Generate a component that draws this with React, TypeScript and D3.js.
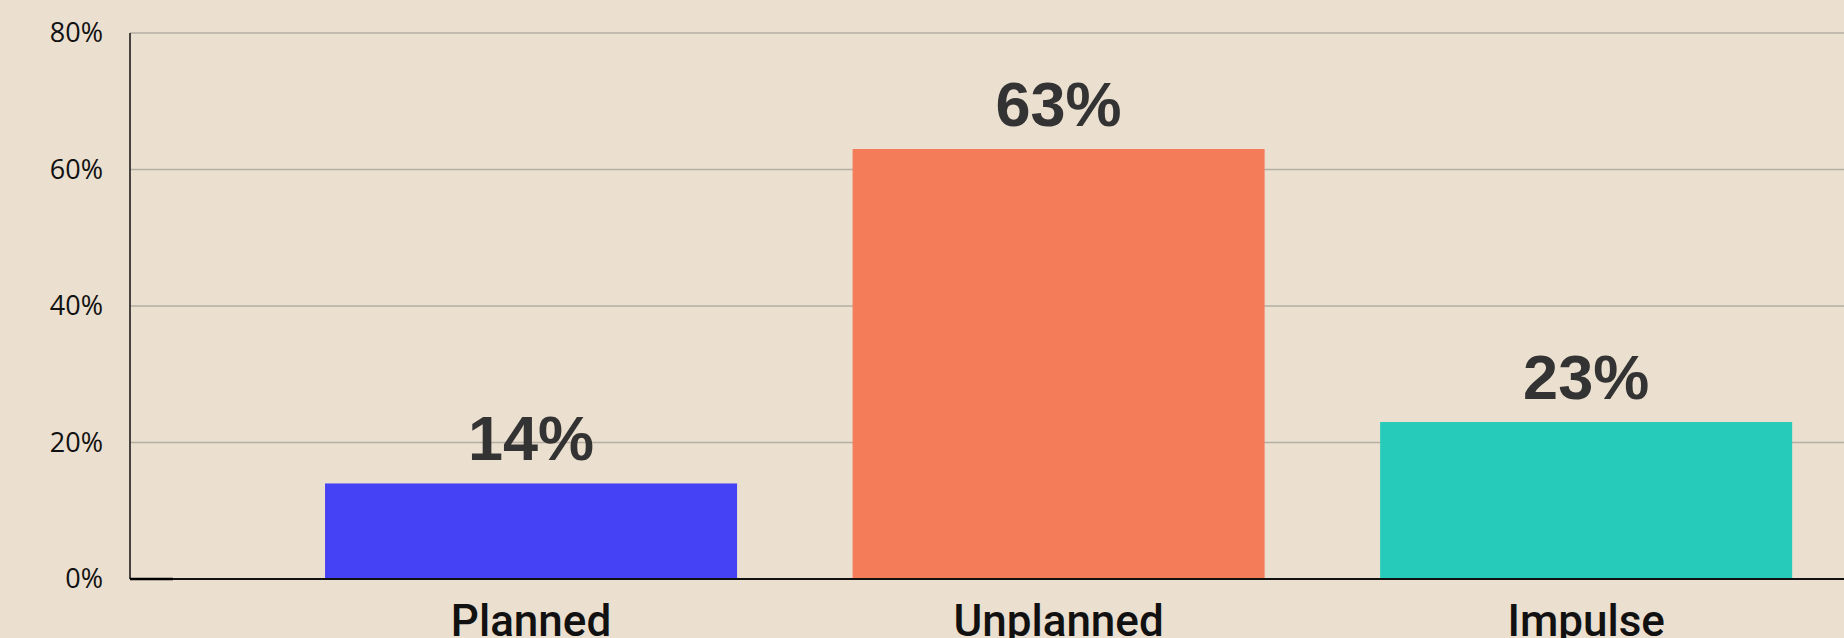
import React, {useEffect, useRef} from 'react';
import * as d3 from 'd3';

// purchase types and their share (%)
const categories = ['Planned', 'Unplanned', 'Impulse'];
const shares = [14, 63, 23];
const yTicks = [0, 20, 40, 60, 80];

const barColors = ['#4541f5', '#f57c58', '#26cbb9'];

const WIDTH = 1844;
const HEIGHT = 638;

export default function App() {
  const ref = useRef<SVGSVGElement>(null);

  useEffect(() => {
    const svg = d3.select(ref.current);
    svg.selectAll('*').remove();

    const marginLeft = 130;
    const top = 33;
    const bottom = 579;

    const x = d3.scaleBand<string>()
        .domain(categories)
        .range([marginLeft, WIDTH])
        .paddingInner(0.219)
        .paddingOuter(0.234)
        .align(0.79);

    const y = d3.scaleLinear()
        .domain([0, 80])
        .range([bottom, top]);

    svg.append('rect')
        .attr('width', WIDTH)
        .attr('height', HEIGHT)
        .attr('fill', '#ebdfcf');

    // gridlines
    svg.append('g')
        .selectAll('line')
        .data(yTicks.filter((t) => t > 0))
        .join('line')
        .attr('x1', marginLeft)
        .attr('x2', WIDTH)
        .attr('y1', (d) => y(d))
        .attr('y2', (d) => y(d))
        .attr('stroke', '#b5aea5')
        .attr('stroke-width', 1.5);

    // y tick labels
    svg.append('g')
        .selectAll('text')
        .data(yTicks)
        .join('text')
        .attr('x', 103)
        .attr('y', (d) => y(d))
        .attr('dy', '0.35em')
        .attr('text-anchor', 'end')
        .attr('font-family', '"Open Sans", sans-serif')
        .attr('font-size', 27)
        .attr('fill', '#111')
        .text((d) => d + '%');

    // bars
    svg.append('g')
        .selectAll('rect')
        .data(shares)
        .join('rect')
        .attr('x', (d, i) => x(categories[i]) as number)
        .attr('width', x.bandwidth())
        .attr('y', (d) => y(d))
        .attr('height', (d) => y(0) - y(d))
        .attr('fill', (d, i) => barColors[i]);

    // value labels
    svg.append('g')
        .selectAll('text')
        .data(shares)
        .join('text')
        .attr('x', (d, i) => (x(categories[i]) as number) + x.bandwidth() / 2)
        .attr('y', (d) => y(d) - 23)
        .attr('text-anchor', 'middle')
        .attr('font-family', '"Liberation Sans", Arial, sans-serif')
        .attr('font-weight', 'bold')
        .attr('font-size', 63)
        .attr('fill', '#333333')
        .text((d) => d + '%');

    // axes lines
    svg.append('line')
        .attr('x1', marginLeft)
        .attr('x2', marginLeft)
        .attr('y1', top)
        .attr('y2', bottom)
        .attr('stroke', '#111')
        .attr('stroke-width', 1.5);

    svg.append('line')
        .attr('x1', marginLeft)
        .attr('x2', WIDTH)
        .attr('y1', bottom)
        .attr('y2', bottom)
        .attr('stroke', '#111')
        .attr('stroke-width', 2);

    svg.append('line')
        .attr('x1', marginLeft)
        .attr('x2', 173)
        .attr('y1', bottom)
        .attr('y2', bottom)
        .attr('stroke', '#000')
        .attr('stroke-width', 2.5);

    // category labels
    svg.append('g')
        .selectAll('text')
        .data(categories)
        .join('text')
        .attr('x', (d) => (x(d) as number) + x.bandwidth() / 2)
        .attr('y', 636)
        .attr('text-anchor', 'middle')
        .attr('font-family', 'Roboto, sans-serif')
        .attr('font-weight', 500)
        .attr('font-size', 44)
        .attr('fill', '#111')
        .text((d) => d);
  }, []);

  return (
    <svg ref={ref} width={WIDTH} height={HEIGHT}
      style={{position: 'fixed', left: 0, top: 0, display: 'block'}} />
  );
}
